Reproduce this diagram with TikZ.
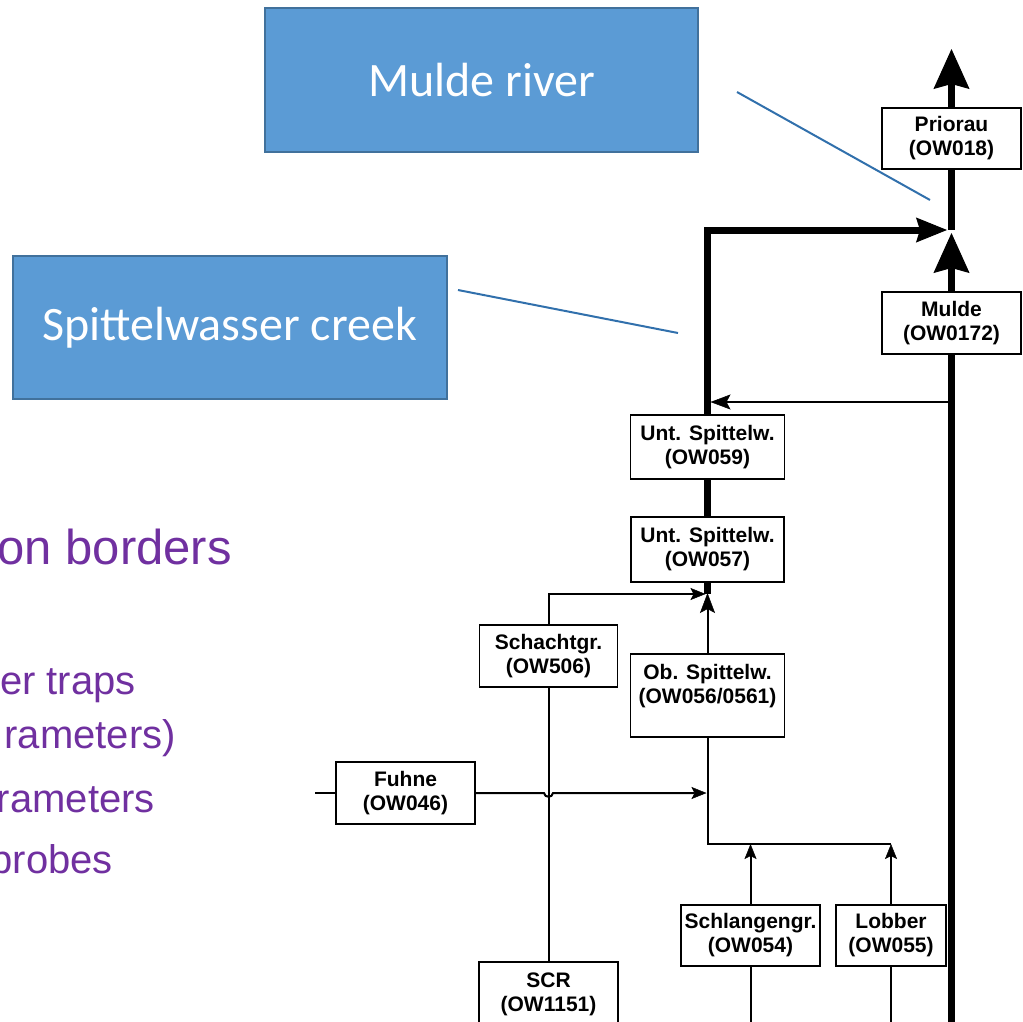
\documentclass[tikz,border=0pt]{standalone}
\usepackage{fontspec}
\setmainfont{Liberation Sans}
\newfontfamily\calib{Carlito}
\usetikzlibrary{arrows.meta}
\definecolor{boxblue}{RGB}{91,155,213}
\definecolor{boxedge}{RGB}{65,113,156}
\definecolor{ptrblue}{RGB}{49,112,172}
\definecolor{purp}{RGB}{112,48,160}
\begin{document}
\begin{tikzpicture}[x=1pt,y=-1pt,
  stn/.style={draw=black, line width=1.8pt, fill=white, align=center, inner sep=0pt,
    font=\fontsize{21}{24}\selectfont\bfseries},
  flow/.style={line width=2pt, draw=black},
  bigflow/.style={line width=7pt, draw=black},
  tipS/.style={-{Stealth[length=15pt,width=12pt,inset=3pt,line width=0.5pt]}},
  tipM/.style={-{Stealth[length=20pt,width=15pt,inset=4pt,line width=0.5pt]}},
  tipL/.style={-{Stealth[length=40pt,width=36pt,inset=5pt,line width=1pt]}},
  tipH/.style={-{Stealth[length=31pt,width=25pt,inset=4pt,line width=1pt]}},
  callout/.style={draw=boxedge, line width=2pt, fill=boxblue, text=white,
    font=\calib\fontsize{48}{56}\selectfont, inner sep=0pt},
  pointer/.style={draw=ptrblue, line width=2pt},
  bullet/.style={text=purp, anchor=base east, inner sep=0pt, font=\fontsize{40}{46}\selectfont}
]
\useasboundingbox (0,0) rectangle (1023,1021);

% callouts
\node[callout, minimum width=433pt, minimum height=144pt] (mr) at (481.5,80) {Mulde river};
\node[callout, minimum width=434pt, minimum height=143pt] (sc) at (229.5,327.5) {Spittelwasser creek};
\coordinate (p1a) at (737,92);
\coordinate (p1b) at (930,200);
\coordinate (p2a) at (458,290);
\coordinate (p2b) at (678,333);
\draw[pointer] (p1a) -- (p1b);
\draw[pointer] (p2a) -- (p2b);

% purple text
\node[bullet, font=\fontsize{49}{56}\selectfont] (t1) at (232,564) {on borders};
\node[bullet] (t2) at (136,694) {er traps};
\node[bullet] (t3) at (176,748) {rameters)};
\node[bullet] (t4) at (155,812) {rameters};
\node[bullet] (t5) at (113,873) {probes};

% stations
\node[stn, minimum width=139pt, minimum height=61pt] (prio) at (951.5,138.5) {Priorau\\(OW018)};
\node[stn, minimum width=139pt, minimum height=62pt] (mul) at (951.5,323) {Mulde\\(OW0172)};
\node[stn, minimum width=154pt, minimum height=64pt] (u59) at (707.5,447) {Unt. Spittelw.\\(OW059)};
\node[stn, minimum width=153pt, minimum height=65pt] (u57) at (707.5,549.5) {Unt. Spittelw.\\(OW057)};
\node[stn, minimum width=138pt, minimum height=62pt] (scha) at (548.5,656) {Schachtgr.\\(OW506)};
\node[stn, minimum width=154pt, minimum height=83pt] (ob) at (707.5,695.5) {Ob. Spittelw.\\(OW056/0561)\\\mbox{}};
\node[stn, minimum width=139pt, minimum height=62pt] (fuh) at (405.5,793) {Fuhne\\(OW046)};
\node[stn, minimum width=139pt, minimum height=61pt] (schl) at (750.5,935.5) {Schlangengr.\\(OW054)};
\node[stn, minimum width=110pt, minimum height=61pt] (lob) at (891,935.5) {Lobber\\(OW055)};
\node[stn, minimum width=139pt, minimum height=64pt] (scr) at (548.5,994) {SCR\\(OW1151)};

% coordinates
\coordinate (top) at (951.5,49);
\coordinate (J1) at (951.5,230);
\coordinate (bot) at (951.5,1030);
\coordinate (tap) at (951.5,402);
\coordinate (c1) at (707.5,230);
\coordinate (J2) at (707.5,594);
\coordinate (c3) at (707.5,844);
\coordinate (c4) at (891,844);
\coordinate (fin) at (315,793);

% Mulde trunk
\draw[bigflow, tipL] (prio.north) -- (top);
\draw[bigflow] (prio.south) -- (J1);
\draw[bigflow, tipL, shorten >=3pt] (mul.north) -- (J1);
\draw[bigflow] (mul.south) -- (bot);
\draw[bigflow, tipH, shorten >=4.5pt] (u59.north) -- (c1) -- (J1);
\draw[flow, tipM, shorten >=3pt] (tap) -- (u59.north |- tap);

% Spittelwasser
\draw[bigflow] (u59.south) -- (u57.north);
\draw[bigflow] (u57.south) -- (J2);
\draw[flow, tipS, shorten >=2pt] (scha.north) -- (scha.north |- J2) -- (J2);
\draw[flow, tipM, shorten >=-1pt] (ob.north) -- (J2);
\draw[flow] (ob.south) -- (c3) -- (c4);
\draw[flow, tipS] (schl.north) -- (schl.north |- c3);
\draw[flow, tipS] (lob.north) -- (c4);
\draw[flow] (schl.south) -- (schl.south |- bot);
\draw[flow] (lob.south) -- (lob.south |- bot);
\draw[flow] (scha.south) -- (scr.north);
\draw[flow] (fin) -- (fuh.west);
\draw[flow, tipS, shorten >=1pt] (fuh.east) -- ([xshift=-4.5pt]scha.south |- fuh.east)
  .. controls ([xshift=-4pt,yshift=-5pt]scha.south |- fuh.east) and ([xshift=4pt,yshift=-5pt]scha.south |- fuh.east)
  .. ([xshift=4.5pt]scha.south |- fuh.east) -- (ob.south |- fuh.east);
\end{tikzpicture}
\end{document}
